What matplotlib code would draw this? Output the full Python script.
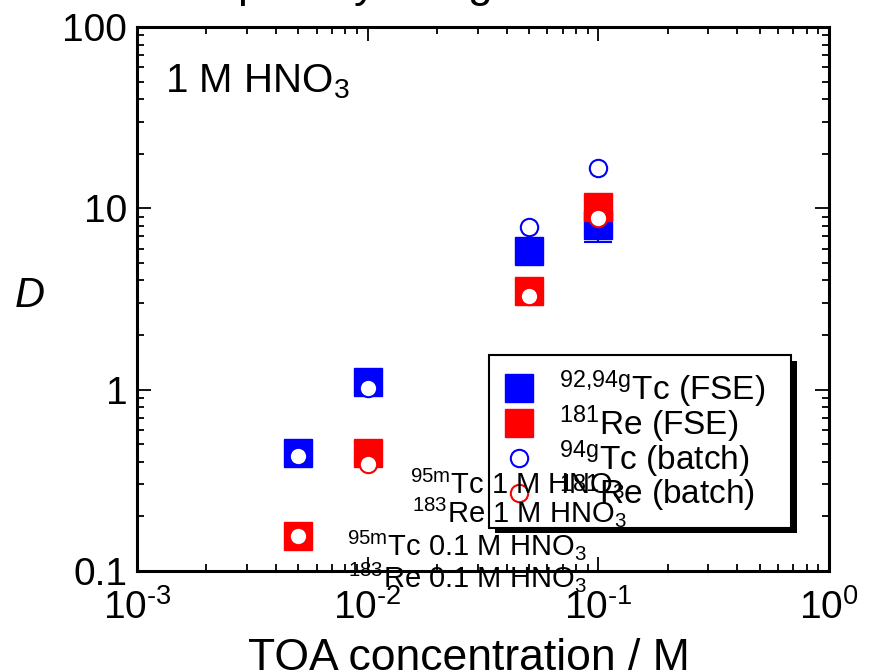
#!/usr/bin/env python

# Import matplotlib for plots:
import matplotlib
matplotlib.use("Agg")
import matplotlib.pyplot as plt
import matplotlib.patheffects as pe
from matplotlib.ticker import LogLocator, NullFormatter

# Import numpy for the minor tick positions:
import numpy as np

# Fonts (Arial look-alike, also for the superscripts):
plt.rcParams['font.family'] = ['Liberation Sans', 'DejaVu Sans']
plt.rcParams['mathtext.fontset'] = 'custom'
plt.rcParams['mathtext.rm'] = 'Liberation Sans'
plt.rcParams['mathtext.it'] = 'Liberation Sans:italic'
plt.rcParams['mathtext.default'] = 'regular'

# Data:
toa_conc = [0.005, 0.01, 0.05, 0.1]          # TOA concentration / M
tc_fse = [0.45, 1.1, 5.8, 8.1]               # 92,94gTc (FSE)
tc_fse_err = [0.0, 0.0, 0.0, 1.6]            # lower error of the Tc (FSE) points
re_fse = [0.155, 0.45, 3.5, 10.2]            # 181Re (FSE)
tc_batch = [0.43, 1.02, 7.9, 16.7]           # 94gTc (batch)
re_batch = [0.155, 0.39, 3.3, 8.8]           # 181Re (batch)

# Axis ticks and labels:
x_ticks = [1e-3, 1e-2, 1e-1, 1]
x_tick_labels = ['$10^{\\text{-3}}$', '$10^{\\text{-2}}$', '$10^{\\text{-1}}$', '$10^{0}$']
y_ticks = [0.1, 1, 10, 100]
y_tick_labels = ['0.1', '1', '10', '100']

legend_labels = ['$^{92{,}94g}$Tc (FSE)', '$^{181}$Re (FSE)',
                 '$^{94g}$Tc (batch)', '$^{181}$Re (batch)']
extra_labels = ['$^{95m}$Tc 1 M HNO$_3$', '$^{183}$Re 1 M HNO$_3$',
                '$^{95m}$Tc 0.1 M HNO$_3$', '$^{183}$Re 0.1 M HNO$_3$']

# Figure and axes:
fig = plt.figure(figsize=(8.69, 6.70), dpi=100)
ax = fig.add_axes([0.1577, 0.1478, 0.7963, 0.8119])

# FSE results (filled squares), only the non-zero Tc error bar is drawn:
err_x = [x for x, e in zip(toa_conc, tc_fse_err) if e > 0]
err_y = [y for y, e in zip(tc_fse, tc_fse_err) if e > 0]
err_lo = [e for e in tc_fse_err if e > 0]
ax.errorbar(err_x, err_y, yerr=[err_lo, [0] * len(err_lo)], fmt='none', ecolor='blue',
            elinewidth=1.5, capsize=10, capthick=1.5, zorder=2)
h_tc, = ax.plot(toa_conc, tc_fse, 's', color='blue', ms=20, mew=1, zorder=3)
h_re, = ax.plot(toa_conc, re_fse, 's', color='red', ms=20, mew=1, zorder=4)

# Batch results (open circles with white fill):
h_tcb, = ax.plot(toa_conc, tc_batch, 'o', mfc='white', mec='blue', ms=12.5, mew=1.5, zorder=5)
h_reb, = ax.plot(toa_conc, re_batch, 'o', mfc='white', mec='red', ms=12.5, mew=1.5, zorder=6)

# Log scales and limits:
ax.set_xscale('log')
ax.set_yscale('log')
ax.set_xlim(1e-3, 1)
ax.set_ylim(0.1, 100)

ax.set_xticks(x_ticks)
ax.set_xticklabels(x_tick_labels)
ax.set_yticks(y_ticks)
ax.set_yticklabels(y_tick_labels)
ax.xaxis.set_minor_locator(LogLocator(base=10, subs=np.arange(2, 10)))
ax.yaxis.set_minor_locator(LogLocator(base=10, subs=np.arange(2, 10)))
ax.xaxis.set_minor_formatter(NullFormatter())
ax.yaxis.set_minor_formatter(NullFormatter())

ax.tick_params(which='both', direction='in', top=True, right=True, width=1.3)
ax.tick_params(which='major', length=10, labelsize=28)
ax.tick_params(axis='y', which='major', pad=7)
ax.tick_params(axis='x', which='major', pad=13)
ax.tick_params(which='minor', length=5)
for spine in ax.spines.values():
    spine.set_linewidth(2.2)

# Axis titles:
ax.set_xlabel('TOA concentration / M', fontsize=32, va='top')
ax.xaxis.set_label_coords(0.48, -0.123)
ax.set_ylabel('D', fontsize=30, style='italic', rotation=0, ha='center', va='center')
ax.yaxis.set_label_coords(-0.155, 0.5055)

# Condition label in the top left corner:
ax.text(0.04, 0.8805, '1 M HNO$_3$', transform=ax.transAxes, fontsize=29,
        ha='left', va='baseline')

# Legend with a black drop shadow:
leg = ax.legend([h_tc, h_re, h_tcb, h_reb], legend_labels, loc='upper left',
                bbox_to_anchor=(0.509, 0.397, 0.4364, 0), mode='expand',
                borderaxespad=0, fontsize=24,
                fancybox=False, framealpha=1, edgecolor='black', numpoints=1,
                handlelength=1.0, handletextpad=0.7, labelspacing=-0.2, borderpad=0.4)
leg.set_zorder(10)
leg.get_frame().set_linewidth(1.5)
leg.get_frame().set_path_effects([pe.SimplePatchShadow(offset=(4, -4), shadow_rgbFace='black', alpha=1.0),
                                  pe.Normal()])

# Leftover labels (no symbols) drawn over the plot:
extra_pos = [(0.3945, 0.1434), (0.397, 0.090), (0.3035, 0.0294), (0.305, -0.0294)]
for lab, (px, py) in zip(extra_labels, extra_pos):
    ax.text(px, py, lab, transform=ax.transAxes, fontsize=21, ha='left',
            va='baseline', zorder=11, clip_on=False)

# Title cut off at the top edge of the figure:
for ch, px in zip(['p', 'y', 'g'], [250, 365, 480]):
    fig.text(px / 869, 1 + 3 / 670, ch, fontsize=32, ha='center', va='baseline')

plt.savefig('out.png', dpi=100)
